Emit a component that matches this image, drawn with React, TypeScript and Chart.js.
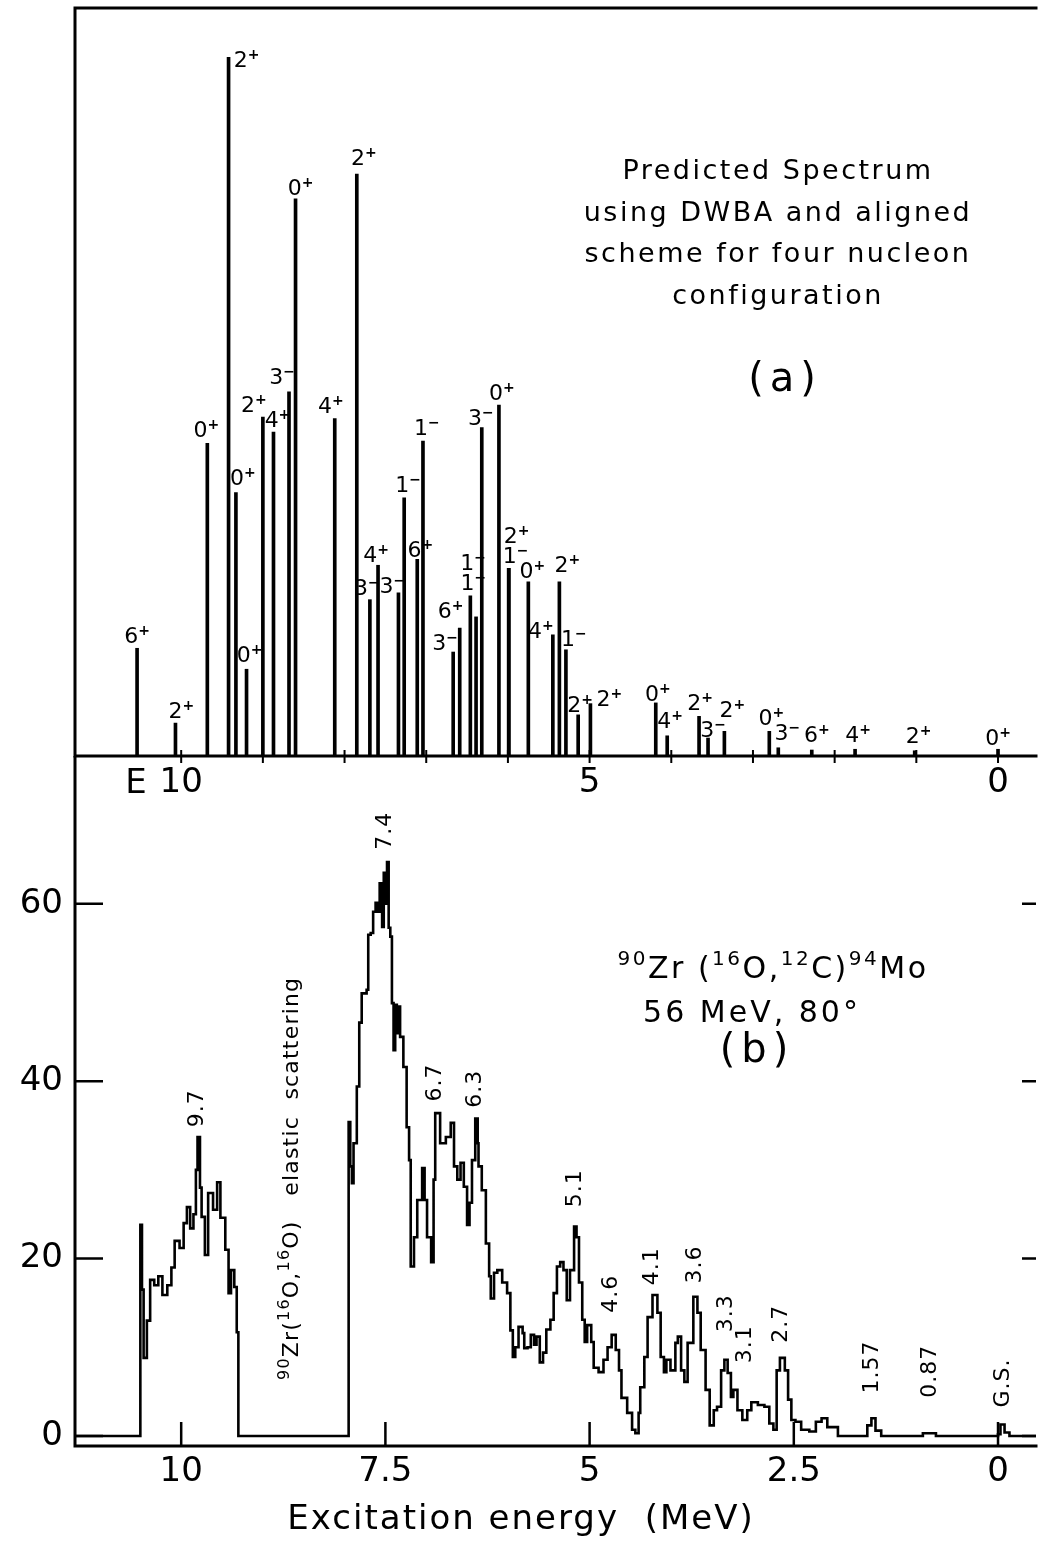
import React, { useEffect, useRef } from 'react';
import { Chart, registerables } from 'chart.js';

Chart.register(...registerables);

const FONT = '"DejaVu Sans", "Liberation Sans", sans-serif';

// ---------- shared energy axis (MeV, reversed) ----------
const X_MIN = -0.465;
const X_MAX = 11.3;

// ---------- panel (a): predicted levels ----------
const levelEnergy = [10.54, 10.07, 9.68, 9.42, 9.33, 9.2, 9.0, 8.87, 8.68, 8.6, 8.12, 7.85, 7.69, 7.59, 7.34, 7.27, 7.11, 7.04, 6.67, 6.59, 6.46, 6.39, 6.32, 6.11, 5.99, 5.99, 5.75, 5.45, 5.37, 5.29, 5.14, 4.99, 4.19, 4.05, 3.66, 3.55, 3.35, 2.8, 2.69, 2.28, 1.75, 1.02, 0.0];
const levelStrength = [14.4, 4.4, 41.8, 93.4, 35.2, 11.6, 45.3, 43.3, 48.7, 74.5, 45.1, 77.8, 20.9, 25.5, 21.8, 34.5, 26.3, 42.1, 13.9, 17.1, 21.4, 18.6, 43.9, 46.9, 25.1, 25.1, 23.3, 16.2, 23.3, 14.2, 5.5, 7.0, 7.1, 2.7, 5.3, 2.4, 3.3, 3.3, 1.1, 0.8, 0.9, 0.7, 0.9];
const levelSpin = ['6+', '2+', '0+', '2+', '0+', '0+', '2+', '4+', '3-', '0+', '4+', '2+', '3-', '4+', '3-', '1-', '6+', '1-', '3-', '6+', '1-', '1-', '3-', '0+', '2+', '1-', '0+', '4+', '2+', '1-', '2+', '2+', '0+', '4+', '2+', '3-', '2+', '0+', '3-', '6+', '4+', '2+', '0+'];
// label nudges (pixels) for the spin labels
const spinLabelDx = [0, 6, -1, 18, 7, 3, -9, 4, -7, 5, -4, 7, -3, -2, -6, 4, 3, 4, -8, -9, 3, -3, -1, 3, 8, 7, 4, -12, 8, 8, 2, 19, 2, 3, 1, 5, 8, 2, 9, 5, 3, 4, 0];
const spinLabelGap = [5, 5, 6, -10, 8, 7, 5, 5, 8, 4, 6, 9, 5, 3, 0, 6, 2, 6, 2, 10, 6, 47, 3, 5, 25, 5, 4, -3, 10, 4, 3, -2, 2, 8, 6, 1, 14, 6, 8, 8, 7, 8, 4];
const topAxisLabels = [10, 5, 0];
const topAxisMarks = [0, 1, 2, 3, 4, 5, 6, 7, 8, 9, 10];
const panelANote = ['Predicted Spectrum', 'using DWBA and aligned', 'scheme for four nucleon', 'configuration'];

// ---------- panel (b): measured spectrum ----------
const specEnergy = [
  11.3, 10.5, 10.48, 10.46, 10.42, 10.38, 10.33, 10.28, 10.23, 10.17, 10.12, 10.08, 10.02, 9.97, 9.93, 9.89, 9.85, 9.82, 9.8, 9.77, 9.75, 9.71, 9.67, 9.61, 9.56, 9.52, 9.46, 9.42, 9.39, 9.35, 9.32, 9.3,
  7.95, 7.93, 7.91, 7.89, 7.85, 7.82, 7.79, 7.73, 7.71, 7.68,
  7.65, 7.62, 7.59, 7.57, 7.54, 7.52, 7.5, 7.48, 7.46, 7.44,
  7.42, 7.4, 7.38, 7.36, 7.34, 7.32, 7.28, 7.24, 7.21, 7.19,
  7.15, 7.11, 7.05, 7.02, 6.99, 6.94, 6.91, 6.89, 6.83, 6.76,
  6.7, 6.66, 6.62, 6.58, 6.54, 6.5, 6.47, 6.44, 6.4, 6.37,
  6.36, 6.32, 6.27, 6.23, 6.21, 6.17, 6.13, 6.07, 6.01, 5.97,
  5.94, 5.91, 5.87, 5.82, 5.8, 5.76, 5.72, 5.68, 5.65, 5.61,
  5.57, 5.53, 5.48, 5.44, 5.4, 5.36, 5.32, 5.28, 5.24, 5.19,
  5.16, 5.13, 5.09, 5.06, 5.03, 4.98, 4.95, 4.89, 4.83, 4.78,
  4.73, 4.68, 4.64, 4.61, 4.54, 4.48, 4.44, 4.4, 4.38, 4.33,
  4.29, 4.23, 4.17, 4.13, 4.09, 4.06, 4.01, 3.95, 3.92, 3.88,
  3.84, 3.8, 3.73, 3.68, 3.64, 3.58, 3.53, 3.48, 3.44, 3.39,
  3.35, 3.31, 3.27, 3.24, 3.19, 3.13, 3.07, 3.02, 2.94, 2.86,
  2.8, 2.75, 2.71, 2.67, 2.61, 2.57, 2.53, 2.48, 2.41, 2.31,
  2.23, 2.16, 2.09, 1.96, 1.6, 1.55, 1.5, 1.43, 0.92, 0.76,
  0.0, -0.03, -0.08, -0.14, -0.465,
];
const specCounts = [
  0, 23.8, 16.5, 8.8, 13.0, 17.6, 17.0, 18.0, 15.9, 17.0, 19.0, 22.0, 21.2, 24.0, 25.8, 23.4, 25.0, 30.0, 33.7, 28.0, 24.7, 20.4, 27.4, 25.5, 28.6, 24.6, 21.0, 16.1, 18.7, 16.8, 11.7, 0,
  35.4, 30.4, 28.5, 33.0, 39.4, 46.6, 49.9, 50.3, 56.5, 56.7,
  59.1, 60.1, 59.1, 62.3, 57.4, 63.5, 60.0, 64.7, 57.3, 56.3,
  48.8, 43.5, 48.6, 45.4, 48.4, 45.0, 41.6, 34.8, 31.1, 19.1,
  22.4, 26.6, 30.2, 26.6, 22.4, 19.6, 28.9, 36.4, 33.0, 33.7,
  35.3, 30.4, 28.9, 30.8, 28.1, 23.8, 26.3, 31.1, 35.8, 33.0,
  30.4, 27.7, 21.7, 18.0, 15.5, 18.4, 18.7, 17.3, 16.1, 11.9,
  8.9, 10.0, 12.3, 11.6, 9.9, 10.0, 11.4, 10.3, 11.2, 8.3,
  9.4, 12.0, 13.1, 16.1, 19.1, 19.6, 18.7, 15.3, 18.7, 23.6,
  22.4, 17.3, 13.1, 10.6, 12.5, 10.6, 7.7, 7.2, 8.6, 10.0,
  11.4, 9.7, 7.4, 4.3, 2.6, 0.7, 0.3, 2.6, 5.5, 8.9,
  13.4, 15.9, 13.9, 8.9, 7.2, 8.6, 7.4, 10.5, 11.2, 7.4,
  6.1, 10.5, 15.7, 13.9, 9.7, 5.2, 1.2, 2.9, 3.3, 7.4,
  8.6, 7.1, 4.4, 5.2, 2.9, 1.8, 2.9, 3.8, 3.5, 3.3,
  1.4, 0.7, 7.4, 8.8, 7.4, 4.1, 1.8, 1.6, 0.7, 0.5,
  1.6, 2.0, 1.0, 0, 1.2, 2.0, 0.6, 0, 0.3, 0,
  0.2, 1.3, 0.4, 0, 0,
];
const peakNames = ['9.7', '7.4', '6.7', '6.3', '5.1', '4.6', '4.1', '3.6', '3.3', '3.1', '2.7', '1.57', '0.87', 'G.S.'];
const peakLabelE = [9.8, 7.5, 6.89, 6.4, 5.17, 4.73, 4.23, 3.71, 3.33, 3.09, 2.65, 1.54, 0.83, -0.06];
const peakLabelY = [34.8, 66.1, 37.7, 37.0, 25.8, 13.9, 17.0, 17.2, 11.7, 8.2, 10.5, 4.8, 4.3, 3.2];
const bottomAxisLabels = [10, 7.5, 5, 2.5, 0];
const countAxisLabels = [0, 20, 40, 60];
const Y_MIN = -1.13;
const Y_MAX = 76.66;

type Part = { t: string; sup?: boolean };

function drawRich(ctx: any, parts: Part[], x: number, y: number, size: number, supSize: number, spacing: number, align: 'left' | 'center') {
  ctx.save();
  ctx.letterSpacing = spacing + 'px';
  ctx.textBaseline = 'alphabetic';
  ctx.textAlign = 'left';
  const widths = parts.map((p) => {
    ctx.font = `${p.sup ? supSize : size}px ${FONT}`;
    return ctx.measureText(p.t).width;
  });
  const total = widths.reduce((a, b) => a + b, 0);
  let cx = align === 'center' ? x - total / 2 : x;
  parts.forEach((p, i) => {
    ctx.font = `${p.sup ? supSize : size}px ${FONT}`;
    ctx.fillText(p.t, cx, p.sup ? y - size * 0.42 : y);
    cx += widths[i];
  });
  ctx.restore();
}

function drawSpin(ctx: any, s: string, cx: number, baseY: number) {
  const d = s.slice(0, -1);
  const sign = s.endsWith('+') ? '+' : '\u2212';
  ctx.font = `22px ${FONT}`;
  const wd = ctx.measureText(d).width;
  ctx.font = `bold 14px ${FONT}`;
  const ws = ctx.measureText(sign).width;
  const x0 = cx - (wd + ws) / 2;
  ctx.textAlign = 'left';
  ctx.textBaseline = 'alphabetic';
  ctx.font = `22px ${FONT}`;
  ctx.fillText(d, x0, baseY);
  ctx.font = `bold 14px ${FONT}`;
  ctx.fillText(sign, x0 + wd, baseY - 8);
}

const topDecor = {
  id: 'topDecor',
  afterDraw(chart: any) {
    const { ctx, chartArea: a, scales } = chart;
    const x = scales.x;
    const y = scales.y;
    ctx.save();
    ctx.strokeStyle = '#000';
    ctx.fillStyle = '#000';
    ctx.lineWidth = 3;
    ctx.lineCap = 'square';
    ctx.beginPath();
    ctx.moveTo(a.left, a.bottom);
    ctx.lineTo(a.left, a.top);
    ctx.lineTo(a.right, a.top);
    ctx.moveTo(a.left, a.bottom);
    ctx.lineTo(a.right, a.bottom);
    ctx.stroke();
    ctx.lineWidth = 2;
    ctx.lineCap = 'butt';
    ctx.beginPath();
    topAxisMarks.forEach((v) => {
      const px = x.getPixelForValue(v);
      ctx.moveTo(px, a.bottom - 6);
      ctx.lineTo(px, a.bottom + 7);
    });
    ctx.stroke();

    levelSpin.forEach((s, i) => {
      const px = x.getPixelForValue(levelEnergy[i]);
      const py = y.getPixelForValue(levelStrength[i]);
      drawSpin(ctx, s, px + spinLabelDx[i], py - spinLabelGap[i]);
    });

    // "E" before the 10 label
    ctx.font = `34px ${FONT}`;
    ctx.textAlign = 'center';
    ctx.textBaseline = 'middle';
    ctx.fillText('E', 136, 784);

    panelANote.forEach((line, i) => {
      ctx.save();
      ctx.letterSpacing = '2.5px';
      ctx.font = `27px ${FONT}`;
      ctx.textAlign = 'center';
      ctx.textBaseline = 'middle';
      ctx.fillText(line, 778, 172 + 41.7 * i);
      ctx.restore();
    });
    ctx.save();
    ctx.letterSpacing = '6px';
    ctx.font = `40px ${FONT}`;
    ctx.textAlign = 'center';
    ctx.textBaseline = 'middle';
    ctx.fillText('(a)', 785, 381);
    ctx.restore();
    ctx.restore();
  },
};

const botDecor = {
  id: 'botDecor',
  afterDraw(chart: any) {
    const { ctx, chartArea: a, scales } = chart;
    const x = scales.x;
    const y = scales.y;
    ctx.save();
    ctx.strokeStyle = '#000';
    ctx.fillStyle = '#000';
    ctx.lineWidth = 3;
    ctx.lineCap = 'square';
    ctx.beginPath();
    ctx.moveTo(a.left, a.top);
    ctx.lineTo(a.left, a.bottom);
    ctx.lineTo(a.right, a.bottom);
    ctx.stroke();

    ctx.lineWidth = 2.5;
    ctx.lineCap = 'butt';
    ctx.beginPath();
    countAxisLabels.forEach((v) => {
      const py = y.getPixelForValue(v);
      ctx.moveTo(a.left, py);
      ctx.lineTo(a.left + 28, py);
      ctx.moveTo(a.right - 14, py);
      ctx.lineTo(a.right, py);
    });
    bottomAxisLabels.forEach((v) => {
      const px = x.getPixelForValue(v);
      ctx.moveTo(px, a.bottom);
      ctx.lineTo(px, a.bottom - 24);
    });
    ctx.stroke();

    // peak labels (rotated)
    peakNames.forEach((name, i) => {
      const px = x.getPixelForValue(peakLabelE[i]);
      const py = y.getPixelForValue(peakLabelY[i]);
      ctx.save();
      ctx.translate(px, py);
      ctx.rotate(-Math.PI / 2);
      ctx.letterSpacing = '1px';
      ctx.font = `22px ${FONT}`;
      ctx.textAlign = 'left';
      ctx.textBaseline = 'middle';
      ctx.fillText(name, 0, 0);
      ctx.restore();
    });

    // reaction annotation
    drawRich(
      ctx,
      [{ t: '90', sup: true }, { t: 'Zr (' }, { t: '16', sup: true }, { t: 'O,' }, { t: '12', sup: true }, { t: 'C)' }, { t: '94', sup: true }, { t: 'Mo' }],
      773, 222, 30, 20, 2.5, 'center'
    );
    drawRich(ctx, [{ t: '56 MeV, 80\u00b0' }], 752, 266, 30, 20, 3, 'center');

    ctx.save();
    ctx.letterSpacing = '6px';
    ctx.font = `40px ${FONT}`;
    ctx.textAlign = 'center';
    ctx.textBaseline = 'middle';
    ctx.fillText('(b)', 757, 296);
    ctx.restore();

    // rotated elastic-scattering note
    ctx.save();
    ctx.translate(290, 624);
    ctx.rotate(-Math.PI / 2);
    drawRich(
      ctx,
      [{ t: '90', sup: true }, { t: 'Zr(' }, { t: '16', sup: true }, { t: 'O,' }, { t: '16', sup: true }, { t: 'O)   elastic  scattering' }],
      0, 8, 22, 16, 1.2, 'left'
    );
    ctx.restore();

    // axis title
    ctx.save();
    ctx.letterSpacing = '2px';
    ctx.font = `34px ${FONT}`;
    ctx.textAlign = 'center';
    ctx.textBaseline = 'middle';
    ctx.fillText('Excitation energy  (MeV)', 521, 764);
    ctx.restore();

    ctx.restore();
  },
};

export default function App() {
  const topRef = useRef<HTMLCanvasElement>(null);
  const botRef = useRef<HTMLCanvasElement>(null);

  useEffect(() => {
    Chart.defaults.color = '#000';
    Chart.defaults.font.family = FONT;

    const top = new Chart(topRef.current as HTMLCanvasElement, {
      type: 'bar',
      data: {
        datasets: [
          {
            data: levelEnergy.map((e, i) => ({ x: e, y: levelStrength[i] })),
            backgroundColor: '#000',
            borderWidth: 0,
            barThickness: 3,
          } as any,
        ],
      },
      options: {
        responsive: false,
        animation: false,
        events: [],
        layout: { padding: { left: 75, right: 2, top: 8, bottom: 0 } },
        plugins: { legend: { display: false }, tooltip: { enabled: false } },
        scales: {
          x: {
            type: 'linear',
            reverse: true,
            min: X_MIN,
            max: X_MAX,
            offset: false,
            grid: { display: false, drawTicks: false },
            border: { display: false },
            afterBuildTicks: (s: any) => {
              s.ticks = topAxisLabels.map((v) => ({ value: v }));
            },
            ticks: { font: { size: 34, family: FONT }, padding: 7, maxRotation: 0, autoSkip: false, color: '#000', callback: (v: any) => String(v) },
            afterFit: (s: any) => {
              s.height = 44;
              s.paddingLeft = 0;
              s.paddingRight = 0;
            },
          },
          y: { display: false, min: 0, max: 100 },
        },
      } as any,
      plugins: [topDecor],
    });

    const bot = new Chart(botRef.current as HTMLCanvasElement, {
      type: 'line',
      data: {
        datasets: [
          {
            data: specEnergy.map((e, i) => ({ x: e, y: specCounts[i] })),
            borderColor: '#000',
            borderWidth: 2.6,
            pointRadius: 0,
            stepped: true,
            fill: false,
            tension: 0,
          } as any,
        ],
      },
      options: {
        responsive: false,
        animation: false,
        events: [],
        layout: { padding: { left: 0, right: 2, top: 0, bottom: 0 } },
        plugins: { legend: { display: false }, tooltip: { enabled: false } },
        scales: {
          x: {
            type: 'linear',
            reverse: true,
            min: X_MIN,
            max: X_MAX,
            offset: false,
            grid: { display: false, drawTicks: false },
            border: { display: false },
            afterBuildTicks: (s: any) => {
              s.ticks = bottomAxisLabels.map((v) => ({ value: v }));
            },
            ticks: { font: { size: 34, family: FONT }, padding: 6, maxRotation: 0, autoSkip: false, color: '#000', callback: (v: any) => String(v) },
            afterFit: (s: any) => {
              s.height = 102;
              s.paddingLeft = 0;
              s.paddingRight = 0;
            },
          },
          y: {
            type: 'linear',
            min: Y_MIN,
            max: Y_MAX,
            grid: { display: false, drawTicks: false },
            border: { display: false },
            afterBuildTicks: (s: any) => {
              s.ticks = countAxisLabels.map((v) => ({ value: v }));
            },
            ticks: { font: { size: 34, family: FONT }, padding: 12, autoSkip: false, color: '#000', callback: (v: any) => String(v) },
            afterFit: (s: any) => {
              s.width = 75;
              s.paddingTop = 0;
              s.paddingBottom = 0;
            },
          },
        },
      } as any,
      plugins: [botDecor],
    });

    return () => {
      top.destroy();
      bot.destroy();
    };
  }, []);

  return (
    <div style={{ position: 'absolute', left: 0, top: 0, width: 1038, height: 1548, background: '#fff', overflow: 'hidden' }}>
      <canvas ref={topRef} width={1038} height={800} style={{ position: 'absolute', left: 0, top: 0, width: 1038, height: 800 }} />
      <canvas ref={botRef} width={1038} height={792} style={{ position: 'absolute', left: 0, top: 756, width: 1038, height: 792 }} />
    </div>
  );
}
